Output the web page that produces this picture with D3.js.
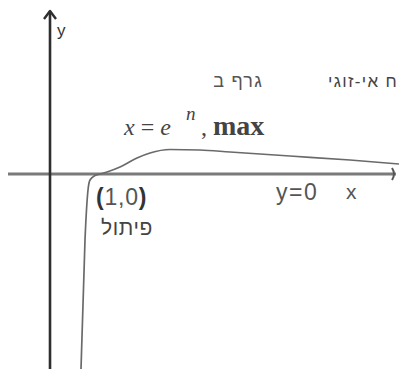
<!DOCTYPE html>
<html>
<head>
<meta charset="utf-8">
<script src="https://cdn.jsdelivr.net/npm/d3@7"></script>
<style>
  html, body { margin: 0; padding: 0; background: #fff; }
  svg { display: block; }
</style>
</head>
<body>
<svg id="chart" width="399" height="369"></svg>
<script>
// Sketch of f(x) near its inflection at (1,0) and its maximum at x = e^n
const curveX = [0.62, 0.70, 0.76, 0.80, 0.90, 1.00, 1.14, 1.40, 1.74, 2.00, 2.40, 3.00, 3.60, 4.80, 6.00, 6.98];
const curveY = [-3.9, -1.32, -0.32, -0.12, -0.03, 0.00, 0.04, 0.14, 0.32, 0.42, 0.49, 0.48, 0.44, 0.36, 0.28, 0.20];

const xDomain = [-0.84, 6.98];
const yDomain = [-3.9, 3.48];

const W = 399, H = 369;
const svg = d3.select("#chart");

const x = d3.scaleLinear().domain(xDomain).range([8, W]);
const y = d3.scaleLinear().domain(yDomain).range([H, 0]);

const x0 = x(0), y0 = y(0);

// x axis (grey, with arrow at the right end)
svg.append("line")
  .attr("x1", 8).attr("x2", W - 3)
  .attr("y1", y0).attr("y2", y0)
  .attr("stroke", "#7a7a7a").attr("stroke-width", 3);
svg.append("path")
  .attr("d", `M${W - 7},${y0 - 6} Q${W - 3},${y0} ${W - 7},${y0 + 6}`)
  .attr("fill", "none").attr("stroke", "#555").attr("stroke-width", 2);

// y axis (dark, with arrow at the top)
svg.append("line")
  .attr("x1", x0).attr("x2", x0)
  .attr("y1", H).attr("y2", 11)
  .attr("stroke", "#2e2e2e").attr("stroke-width", 2.6);
svg.append("path")
  .attr("d", `M${x0 - 6},${19} L${x0},${11} L${x0 + 6},${19}`)
  .attr("fill", "none").attr("stroke", "#2e2e2e").attr("stroke-width", 2.4)
  .attr("stroke-linejoin", "round");

// function curve
const pts = curveX.map((d, i) => [d, curveY[i]]);
svg.append("path")
  .datum(pts)
  .attr("d", d3.line().x(d => x(d[0])).y(d => y(d[1])).curve(d3.curveMonotoneX))
  .attr("fill", "none").attr("stroke", "#6a6a6a").attr("stroke-width", 1.7);

const sans = "'Liberation Sans', Arial, 'DejaVu Sans', sans-serif";
const serif = "'Liberation Serif', 'Times New Roman', serif";

// axis names
svg.append("text").attr("x", x0 + 7).attr("y", 36)
  .attr("font-family", sans).attr("font-size", 17).attr("fill", "#333").text("y");
svg.append("text").attr("x", 346).attr("y", 199)
  .attr("font-family", sans).attr("font-size", 21).attr("fill", "#555").text("x");

// Hebrew captions
svg.append("text").attr("x", 263).attr("y", 87)
  .attr("direction", "rtl").attr("text-anchor", "start")
  .attr("font-family", sans).attr("font-size", 18).attr("letter-spacing", 1.2)
  .attr("fill", "#555").text("גרף ב");
svg.append("text").attr("x", 398).attr("y", 87)
  .attr("direction", "rtl").attr("text-anchor", "start")
  .attr("font-family", sans).attr("font-size", 17).attr("letter-spacing", 1.3)
  .attr("fill", "#444").text("ח אי-זוגי");

// maximum label
const maxLabel = svg.append("text").attr("x", 124).attr("y", 135)
  .attr("font-family", serif).attr("font-size", 24).attr("fill", "#444");
maxLabel.append("tspan").attr("font-style", "italic").text("x");
maxLabel.append("tspan").text(" = ");
maxLabel.append("tspan").attr("font-style", "italic").text("e");
maxLabel.append("tspan").attr("font-style", "italic").attr("font-size", 19)
  .attr("x", 186).attr("y", 120).text("n");
maxLabel.append("tspan").attr("x", 201).attr("y", 135).text(", ");
maxLabel.append("tspan").attr("font-weight", "bold").attr("font-size", 28).text("max");

// inflection point label
const pt = svg.append("text").attr("x", 96).attr("y", 205)
  .attr("font-family", sans).attr("font-size", 23).attr("letter-spacing", 0.8).attr("fill", "#555");
pt.append("tspan").attr("font-weight", "bold").attr("fill", "#333").text("(");
pt.append("tspan").text("1,0");
pt.append("tspan").attr("font-weight", "bold").attr("fill", "#333").text(")");
svg.append("text").attr("x", 153).attr("y", 235)
  .attr("direction", "rtl").attr("text-anchor", "start")
  .attr("font-family", sans).attr("font-size", 21).attr("letter-spacing", 0.6)
  .attr("fill", "#444").text("פיתול");

// asymptote label
svg.append("text").attr("x", 276).attr("y", 200)
  .attr("font-family", sans).attr("font-size", 23).attr("letter-spacing", 1.5)
  .attr("fill", "#555").text("y=0");
</script>
</body>
</html>
